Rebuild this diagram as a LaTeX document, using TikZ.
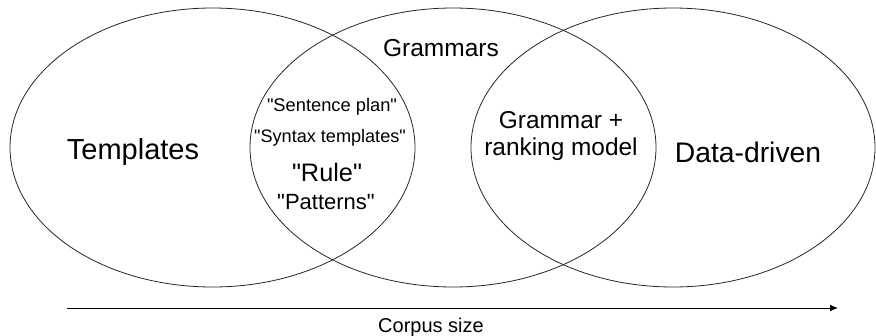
\documentclass[tikz,border=0pt]{standalone}
\usepackage{fontspec}
\setmainfont{Liberation Sans}
\usetikzlibrary{arrows.meta}

\tikzset{
    venn/.style={draw=black!85, line width=0.8pt},
    lbl/.style={inner sep=0pt, align=center},
}
\newcommand{\fsz}[1]{\fontsize{#1}{#1}\selectfont}
\newcommand{\qt}[1]{\textquotedbl#1\textquotedbl}

\begin{document}
\begin{tikzpicture}[x=1pt, y=-1pt]
        \useasboundingbox (0,0) rectangle (876,335);

        % Disegna le tre ellissi
        \draw[venn] (212.5,147.5) ellipse [x radius=202.5, y radius=139.5]; % Templates
        \draw[venn] (453,147.5) ellipse [x radius=203, y radius=139.5];     % Grammars
        \draw[venn] (673,147.5) ellipse [x radius=202, y radius=139.5];     % Data-driven

        % Etichette
        \node[lbl] (templates) at (133, 152) {\fsz{29}Templates};
        \node[lbl] (grammars) at (441, 48) {\fsz{24.5}Grammars};
        \node[lbl] (plan) at (332, 107) {\fsz{18.3}\qt{Sentence plan}};
        \node[lbl] (syntax) at (330, 138) {\fsz{18.1}\qt{Syntax templates}};
        \node[lbl] (rule) at (327, 172) {\fsz{25.3}\qt{Rule}};
        \node[lbl] (patterns) at (326, 202) {\fsz{22}\qt{Patterns}};
        \node[lbl] (grammar) at (561, 120) {\fsz{24.4}Grammar +};
        \node[lbl] (ranking) at (561, 149) {\fsz{24.4}ranking model};
        \node[lbl] (data) at (748, 152) {\fsz{28.3}Data-driven};

        % Asse della dimensione del corpus
        \coordinate (start) at (67, 308);
        \coordinate (end) at (838, 308);
        \draw[line width=1pt, -{Latex[length=8pt, width=7pt]}] (start) -- (end);
        \node[lbl] (corpus) at (431, 327) {\fsz{20}Corpus size};
\end{tikzpicture}
\end{document}
